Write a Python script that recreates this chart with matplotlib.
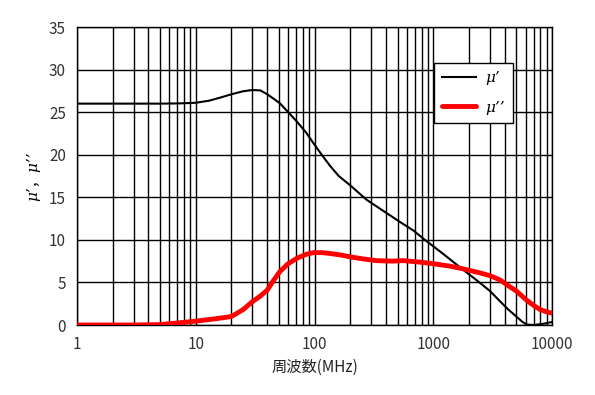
import numpy as np
import matplotlib.pyplot as plt
import matplotlib.ticker as ticker

plt.rcParams['font.family'] = ['Noto Sans CJK JP', 'DejaVu Sans']

# frequency (MHz) and permeability
freq_real = [1, 3, 5, 7, 10, 13, 16, 20, 25, 30, 35, 40, 45, 51, 60, 71, 85,
             98, 115, 135, 160, 200, 275, 380, 525, 680, 850, 1200, 1780,
             2400, 3000, 3640, 4300, 5000, 5600, 6130, 7000, 8500, 10000]
mu_real = [26.0, 26.0, 26.0, 26.02, 26.1, 26.35, 26.7, 27.1, 27.45, 27.6,
           27.55, 27.1, 26.6, 26.05, 25.0, 23.9, 22.6, 21.35, 20.0, 18.7,
           17.5, 16.4, 14.7, 13.4, 12.1, 11.1, 10.0, 8.4, 6.5, 5.1, 4.0,
           2.8, 1.8, 1.0, 0.4, 0.05, 0.0, 0.15, 0.35]

freq_imag = [1, 3, 5, 7.4, 10, 15, 20, 25, 30, 35, 40, 45, 51, 60, 71, 85, 98,
             115, 135, 170, 200, 260, 333, 450, 560, 750, 1000, 1400, 1780,
             2500, 3000, 3640, 4300, 5000, 6130, 7000, 8000, 9000, 10000]
mu_imag = [0.0, 0.0, 0.05, 0.27, 0.45, 0.75, 1.0, 1.8, 2.74, 3.4, 4.1, 5.2,
           6.27, 7.2, 7.83, 8.3, 8.5, 8.5, 8.4, 8.2, 8.0, 7.75, 7.56, 7.5,
           7.56, 7.4, 7.2, 6.9, 6.6, 6.1, 5.8, 5.3, 4.6, 4.0, 2.9, 2.3, 1.8,
           1.55, 1.4]

fig = plt.figure(figsize=(5.95, 3.95), dpi=100)
ax = fig.add_axes([77/595, 1 - 325/395, 475/595, 298/395])

ax.plot(freq_real, mu_real, color='black', lw=1.5, label='μ’', zorder=3)
ax.plot(freq_imag, mu_imag, color='#ff0000', lw=3.5, label='μ’’', zorder=3,
        solid_capstyle='round', solid_joinstyle='round')

ax.set_xscale('log')
ax.set_xlim(1, 10000)
ax.set_ylim(0, 35)
ax.xaxis.set_major_locator(ticker.LogLocator(base=10))
ax.xaxis.set_major_formatter(ticker.FuncFormatter(lambda v, p: '%d' % v))
ax.xaxis.set_minor_locator(ticker.LogLocator(base=10, subs=np.arange(2, 10)))
ax.xaxis.set_minor_formatter(ticker.NullFormatter())
ax.yaxis.set_major_locator(ticker.MultipleLocator(5))

ax.grid(True, which='both', axis='x', color='black', lw=1)
ax.grid(True, which='major', axis='y', color='black', lw=1)
ax.tick_params(which='both', length=0, labelsize=11, pad=8, colors='#333333')
for s in ax.spines.values():
    s.set_color('black')
    s.set_linewidth(1)

ax.set_xlabel('周波数(MHz)', fontsize=11, labelpad=4, color='#222222')
ax.set_ylabel('μ’，μ’’', fontsize=11, labelpad=6,
              family=['DejaVu Serif', 'Noto Sans CJK JP'], fontstyle='italic')

leg = ax.legend(loc='upper right', bbox_to_anchor=(513/595, 1 - 63/395),
                bbox_transform=fig.transFigure, fancybox=False,
                framealpha=1, edgecolor='black', handlelength=2.2,
                handletextpad=0.6, borderaxespad=0,
                prop={'size': 11, 'style': 'italic', 'family': 'DejaVu Serif'},
                borderpad=0.55, labelspacing=1.0)
leg.get_frame().set_linewidth(1)

fig.savefig('out.png', dpi=100)
